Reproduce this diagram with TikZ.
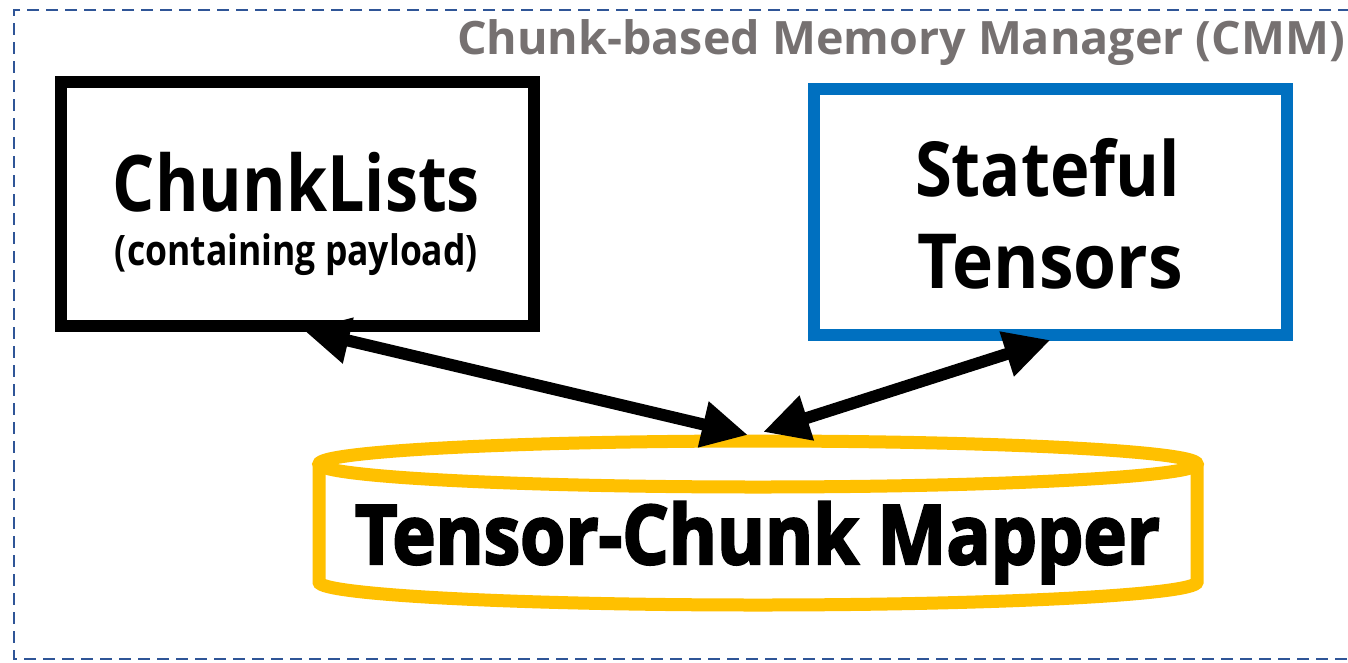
\documentclass[tikz,border=0pt]{standalone}
\usepackage{fontspec}
\setmainfont{Open Sans}
\newfontfamily\heavyfont{Open Sans}[BoldFeatures={FakeBold=3}]
\usetikzlibrary{arrows.meta}

\definecolor{cmmgray}{HTML}{767171}
\definecolor{cmmblue}{HTML}{0070C0}
\definecolor{cmmyellow}{HTML}{FFC000}
\definecolor{cmmframe}{HTML}{2F5597}

% set a text at its natural height, stretched to a given width
\newcommand\fitw[2]{\resizebox{#1}{\height}{#2}}

\tikzset{
  frame/.style={draw=cmmframe, line width=2.8pt, dash pattern=on 12pt off 7pt},
  blackbox/.style={draw=black, line width=12pt, minimum width=473pt, minimum height=244pt, inner sep=0pt, outer sep=0pt},
  bluebox/.style={draw=cmmblue, line width=12pt, minimum width=473pt, minimum height=246pt, inner sep=0pt, outer sep=0pt},
  drum/.style={draw=cmmyellow, line width=13pt},
  txt/.style={anchor=base, inner sep=0pt, outer sep=0pt},
  link/.style={draw=black, line width=12pt,
    {Triangle[length=46pt,width=44pt]}-{Triangle[length=46pt,width=44pt]}},
}

\begin{document}
\begin{tikzpicture}[x=1pt, y=-1pt]
  \useasboundingbox (0,0) rectangle (1348,662);
  \fill[white] (0,0) rectangle (1348,662);

  % manager frame, open on the right
  \draw[frame] (1350,10) -- (14,10) -- (14,659) -- (1350,659);
  \node[txt, text=cmmgray] (cmm) at (901,54)
    {\fitw{888pt}{\fontsize{46}{46}\selectfont\bfseries Chunk-based Memory Manager (CMM)}};

  % chunk lists
  \node[blackbox] (cl) at (297.5,204) {};
  \node[txt] (cltext) at (296.5,211)
    {\fitw{367pt}{\fontsize{78}{78}\selectfont\bfseries ChunkLists}};
  \node[txt] (clnote) at (296.5,265)
    {\fitw{363pt}{\fontsize{42}{42}\selectfont\bfseries (containing payload)}};

  % stateful tensors
  \node[bluebox] (st) at (1050.5,212) {};
  \node[txt] (sttext1) at (1047.5,196)
    {\fitw{265pt}{\fontsize{76}{76}\selectfont\bfseries Stateful}};
  \node[txt] (sttext2) at (1050,288)
    {\fitw{266pt}{\fontsize{76}{76}\selectfont\bfseries Tensors}};

  % tensor-chunk mapper drum
  \fill[white] (319,464) -- (319,582) arc[start angle=180, end angle=0, x radius=439, y radius=23] -- (1197,464) -- cycle;
  \draw[drum] (319,464) -- (319,582) arc[start angle=180, end angle=0, x radius=439, y radius=23] -- (1197,464);
  \draw[drum] (758,464) ellipse [x radius=439, y radius=23];
  \node[txt] (map) at (757.5,564)
    {\fitw{805pt}{\fontsize{82}{82}\selectfont\heavyfont\bfseries Tensor-Chunk Mapper}};

  % ports on the drum lid
  \coordinate (mapL) at (748,435);
  \coordinate (mapR) at (763,432);

  % connectors
  \draw[link] ([xshift=6pt,yshift=-4pt]cl.south) -- (mapL);
  \draw[link] (mapR) -- ([xshift=0pt,yshift=-5pt]st.south);
\end{tikzpicture}
\end{document}
